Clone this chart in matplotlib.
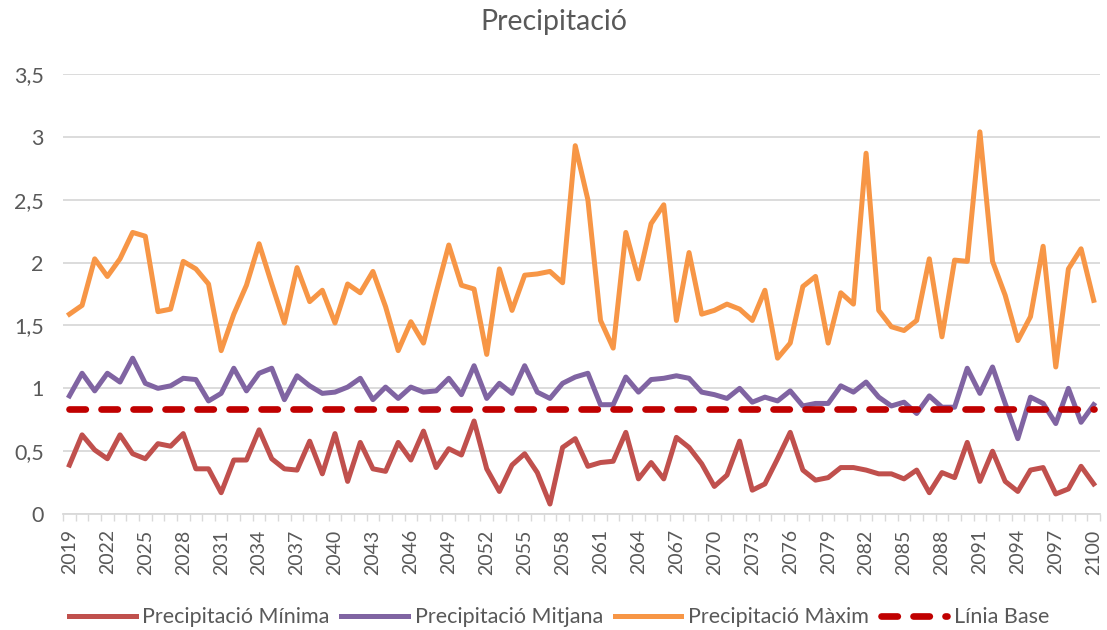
import matplotlib
matplotlib.use("Agg")
import matplotlib.pyplot as plt
import numpy as np

years = list(range(2019, 2101))

prec_max = [1.59, 1.66, 2.03, 1.89, 2.03, 2.24, 2.21, 1.61, 1.63, 2.01,
            1.95, 1.83, 1.30, 1.59, 1.82, 2.15, 1.83, 1.52, 1.96, 1.69,
            1.78, 1.52, 1.83, 1.76, 1.93, 1.65, 1.30, 1.53, 1.36, 1.76,
            2.14, 1.82, 1.79, 1.27, 1.95, 1.62, 1.90, 1.91, 1.93, 1.84,
            2.93, 2.50, 1.54, 1.32, 2.24, 1.87, 2.31, 2.46, 1.54, 2.08,
            1.59, 1.62, 1.67, 1.63, 1.54, 1.78, 1.24, 1.36, 1.81, 1.89,
            1.36, 1.76, 1.67, 2.87, 1.62, 1.49, 1.46, 1.54, 2.03, 1.41,
            2.02, 2.01, 3.04, 2.01, 1.74, 1.38, 1.57, 2.13, 1.17, 1.95,
            2.11, 1.70]

prec_mean = [0.94, 1.12, 0.98, 1.12, 1.05, 1.24, 1.04, 1.00, 1.02, 1.08,
             1.07, 0.90, 0.96, 1.16, 0.98, 1.12, 1.16, 0.91, 1.10, 1.02,
             0.96, 0.97, 1.01, 1.08, 0.91, 1.01, 0.92, 1.01, 0.97, 0.98,
             1.08, 0.95, 1.18, 0.92, 1.04, 0.96, 1.18, 0.97, 0.92, 1.04,
             1.09, 1.12, 0.87, 0.87, 1.09, 0.97, 1.07, 1.08, 1.10, 1.08,
             0.97, 0.95, 0.92, 1.00, 0.89, 0.93, 0.90, 0.98, 0.86, 0.88,
             0.88, 1.02, 0.97, 1.05, 0.93, 0.86, 0.89, 0.80, 0.94, 0.85,
             0.85, 1.16, 0.96, 1.17, 0.88, 0.60, 0.93, 0.88, 0.72, 1.00,
             0.73, 0.87]

prec_min = [0.39, 0.63, 0.51, 0.44, 0.63, 0.48, 0.44, 0.56, 0.54, 0.64,
            0.36, 0.36, 0.17, 0.43, 0.43, 0.67, 0.44, 0.36, 0.35, 0.58,
            0.32, 0.64, 0.26, 0.57, 0.36, 0.34, 0.57, 0.43, 0.66, 0.37,
            0.52, 0.47, 0.74, 0.36, 0.18, 0.39, 0.48, 0.33, 0.08, 0.53,
            0.60, 0.38, 0.41, 0.42, 0.65, 0.28, 0.41, 0.28, 0.61, 0.53,
            0.40, 0.22, 0.31, 0.58, 0.19, 0.24, 0.44, 0.65, 0.35, 0.27,
            0.29, 0.37, 0.37, 0.35, 0.32, 0.32, 0.28, 0.35, 0.17, 0.33,
            0.29, 0.57, 0.26, 0.50, 0.26, 0.18, 0.35, 0.37, 0.16, 0.20,
            0.38, 0.24]

baseline_value = 0.835
baseline = [baseline_value] * len(years)

y_ticks = [0, 0.5, 1, 1.5, 2, 2.5, 3, 3.5]
y_tick_labels = ["0", "0,5", "1", "1,5", "2", "2,5", "3", "3,5"]

plt.rcParams['font.family'] = ['Lato', 'DejaVu Sans']
text_color = "#595959"

fig = plt.figure(figsize=(11.07, 6.30), dpi=100)
ax = fig.add_axes([0.057, 0.184, 0.9367, 0.6985])

x = np.arange(len(years))
ax.plot(x, prec_min, color="#C0504D", lw=3.6, label="Precipitació Mínima", solid_joinstyle="round")
ax.plot(x, prec_mean, color="#8064A2", lw=3.6, label="Precipitació Mitjana", solid_joinstyle="round")
ax.plot(x, prec_max, color="#F79646", lw=3.6, label="Precipitació Màxim", solid_joinstyle="round")
ax.plot(x, baseline, color="#C00000", lw=4.8, ls=(0, (2.45, 2.35)), dash_capstyle="round",
        label="Línia Base")

ax.set_xlim(-0.5, len(years) - 0.5)
ax.set_ylim(0, 3.5)
ax.set_yticks(y_ticks)
ax.set_yticklabels(y_tick_labels)
ax.yaxis.grid(True, color="#d9d9d9", lw=1.3)
ax.set_axisbelow(True)

label_idx = list(range(0, len(years), 3))
ax.set_xticks(label_idx)
ax.set_xticklabels([str(years[i]) for i in label_idx], rotation=90)
ax.set_xticks(np.arange(-0.5, len(years), 1), minor=True)
ax.tick_params(axis="x", which="major", length=0, pad=11, labelsize=14, colors=text_color)
ax.tick_params(axis="x", which="minor", length=5, width=1, color="#d9d9d9")
ax.tick_params(axis="y", length=0, pad=14, labelsize=15.5, colors=text_color)

for s in ["top", "right", "left"]:
    ax.spines[s].set_visible(False)
ax.spines["bottom"].set_color("#d9d9d9")
ax.spines["bottom"].set_linewidth(1.3)

fig.suptitle("Precipitació", y=0.985, fontsize=20.5, color=text_color)

leg = fig.legend(loc="center", bbox_to_anchor=(0.505, 0.02), ncol=4, frameon=False,
                 fontsize=15.5, handlelength=3.1, handletextpad=0.3, columnspacing=0.55,
                 labelcolor=text_color)

fig.savefig("out.png", dpi=100)
